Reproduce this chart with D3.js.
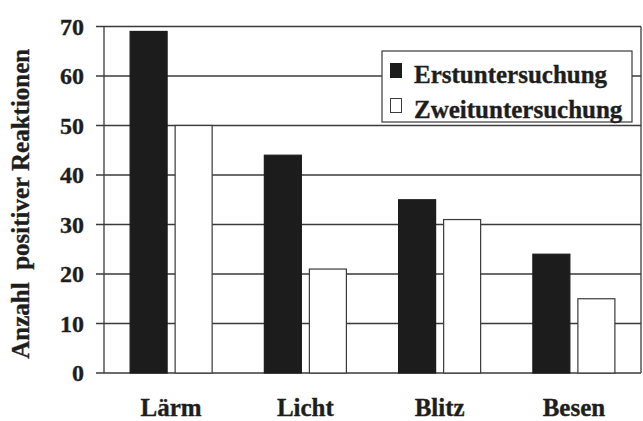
<!DOCTYPE html>
<html>
<head>
<meta charset="utf-8">
<script src="https://cdn.jsdelivr.net/npm/d3@7"></script>
<style>
  html, body { margin: 0; padding: 0; background: #fff; }
  svg { display: block; }
  text { font-family: "Liberation Serif", "Times New Roman", Tinos, "DejaVu Serif", serif; font-weight: bold; fill: #1e1e1e; stroke: #1e1e1e; stroke-width: 0.35px; }
</style>
</head>
<body>
<script>
const categories = ["Lärm", "Licht", "Blitz", "Besen"];
const seriesNames = ["Erstuntersuchung", "Zweituntersuchung"];
const erst = [69, 44, 35, 24];
const zweit = [50, 21, 31, 15];
const yTicks = [0, 10, 20, 30, 40, 50, 60, 70];
const yLabel = "Anzahl\u00A0\u00A0positiver Reaktionen";

const W = 643, H = 421;
const m = { left: 104, right: 2, top: 26.5, bottom: 48 };
const lineColor = "#3a3a3a";
const colors = ["#1c1c1c", "#ffffff"];

const svg = d3.select("body").append("svg").attr("width", W).attr("height", H);

const x0 = d3.scaleBand().domain(categories).range([m.left, W - m.right]).paddingInner(0).paddingOuter(0);
const x1 = d3.scaleBand().domain(seriesNames).range([0, x0.bandwidth()]).paddingInner(0.178).paddingOuter(0.58);
const y = d3.scaleLinear().domain([0, 70]).range([H - m.bottom, m.top]);

// grid lines (with tick stubs to the left)
svg.append("g").selectAll("line").data(yTicks).join("line")
  .attr("x1", m.left - 8).attr("x2", W - m.right)
  .attr("y1", d => y(d)).attr("y2", d => y(d))
  .attr("stroke", lineColor).attr("stroke-width", 1.3);

// borders
svg.append("line").attr("x1", m.left).attr("x2", m.left).attr("y1", y(70)).attr("y2", y(0))
  .attr("stroke", lineColor).attr("stroke-width", 1.3);
svg.append("line").attr("x1", W - m.right).attr("x2", W - m.right).attr("y1", y(70)).attr("y2", y(0))
  .attr("stroke", lineColor).attr("stroke-width", 1.3);

// bars
const data = categories.map((c, i) => ({ cat: c, vals: [erst[i], zweit[i]] }));
const g = svg.append("g").selectAll("g").data(data).join("g")
  .attr("transform", d => `translate(${x0(d.cat)},0)`);
g.selectAll("rect").data(d => d.vals.map((v, j) => ({ s: seriesNames[j], v, j }))).join("rect")
  .attr("x", d => x1(d.s)).attr("width", x1.bandwidth())
  .attr("y", d => y(d.v)).attr("height", d => y(0) - y(d.v))
  .attr("fill", d => colors[d.j])
  .attr("stroke", d => d.j === 0 ? "#1c1c1c" : lineColor)
  .attr("stroke-width", 1.2);

// y tick labels
svg.append("g").selectAll("text").data(yTicks).join("text")
  .attr("x", 84).attr("y", d => y(d)).attr("dy", "0.35em")
  .attr("text-anchor", "end").attr("font-size", 24)
  .text(d => d);

// x labels
svg.append("g").selectAll("text").data(categories).join("text")
  .attr("x", d => x0(d) + x0.bandwidth() / 2).attr("y", 416)
  .attr("text-anchor", "middle").attr("font-size", 25)
  .text(d => d);

// y axis title
svg.append("text")
  .attr("transform", `translate(29,${(y(0) + y(70)) / 2 + 4}) rotate(-90)`)
  .attr("text-anchor", "middle").attr("font-size", 25)
  .text(yLabel);

// legend
const lg = svg.append("g");
lg.append("rect").attr("x", 382).attr("y", 51).attr("width", 250).attr("height", 71)
  .attr("fill", "#fff").attr("stroke", lineColor).attr("stroke-width", 1.2);
const items = lg.selectAll("g").data(seriesNames).join("g")
  .attr("transform", (d, i) => `translate(390,${63 + i * 35})`);
items.append("rect").attr("x", 0.5).attr("y", 0.5).attr("width", 11).attr("height", 14)
  .attr("fill", (d, i) => colors[i]).attr("stroke", (d, i) => i === 0 ? "#1c1c1c" : lineColor).attr("stroke-width", 1);
items.append("text").attr("x", 24).attr("y", 20).attr("font-size", 25).text(d => d);
</script>
</body>
</html>
